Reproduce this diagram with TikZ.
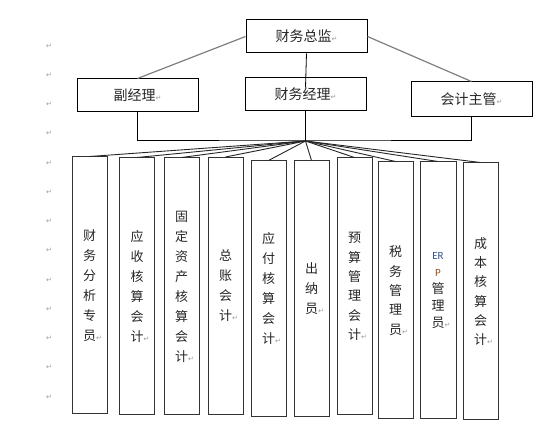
\documentclass[tikz,border=0pt]{standalone}
\usepackage{fontspec}
\newfontfamily\cjk{Noto Sans CJK SC}
\newfontfamily\dejavu{DejaVu Sans}
\newfontfamily\calibri{Carlito}
\definecolor{pmgray}{HTML}{9A9A9A}
\definecolor{linegray}{HTML}{7F7F7F}
\definecolor{erblue}{HTML}{2F4F8F}
\definecolor{erbrown}{HTML}{9A4E1C}
\newcommand{\pmk}{{\color{pmgray}\dejavu\fontsize{7}{7}\selectfont ↵}}
\begin{document}
\begin{tikzpicture}[x=1pt,y=-1pt,
  topbox/.style={draw,line width=1pt,minimum width=121pt,minimum height=33pt,inner sep=0pt,
    text=black!85,font=\cjk\fontsize{14}{16}\selectfont},
  colbox/.style={draw=black!80,line width=1pt,minimum width=35pt,minimum height=257pt,inner sep=0pt,
    align=center,text width=35pt,text=black!85,font=\cjk\fontsize{13}{20}\selectfont}]
  \useasboundingbox (0,0) rectangle (555,427);
  %segni di paragrafo
  \foreach \i in {0,...,12}
    \node (m\i) at (49,46+29.25*\i) {\pmk};
  %vertice
  \node[topbox] (zongjian) at (306.5,36.5) {财务总监\pmk};
  %secondo livello
  \node[topbox] (fujingli) at (137.5,95.5) {副经理\pmk};
  \node[topbox] (jingli) at (305.5,94.5) {财务经理\pmk};
  \node[topbox,minimum height=35pt] (zhuguan) at (471.5,99.5) {会计主管\pmk};
  \draw[linegray,line width=1.2pt] (zongjian.west) -- (fujingli.north);
  \draw[linegray,line width=1.2pt] (zongjian.east) -- (zhuguan.north);
  \draw[line width=0.8pt] (zongjian.south) -- ([yshift=-10pt]jingli.north);
  %raccordo
  \coordinate (hub) at (305.5,141);
  \draw[line width=1pt] (fujingli.south) |- (hub) -| (zhuguan.south);
  \draw[line width=1pt] (jingli.south) -- (hub);
  %terzo livello
  \node[colbox] (c1) at (89.5,285.5) {财\\务\\分\\析\\专\\员\rlap{\pmk}};
  \node[colbox] (c2) at (137,286.5) {应\\收\\核\\算\\会\\计\rlap{\pmk}};
  \node[colbox] (c3) at (181.5,286.5) {固\\定\\资\\产\\核\\算\\会\\计\rlap{\pmk}};
  \node[colbox] (c4) at (225.5,286) {总\\账\\会\\计\rlap{\pmk}};
  \node[colbox,minimum height=256pt] (c5) at (268.5,289) {应\\付\\核\\算\\会\\计\rlap{\pmk}};
  \node[colbox,minimum height=256pt] (c6) at (311.5,289) {出\\纳\\员\rlap{\pmk}};
  \node[colbox,font=\cjk\fontsize{13}{19.3}\selectfont] (c7) at (354.5,286.5) {预\\算\\管\\理\\会\\计\rlap{\pmk}};
  \node[colbox,font=\cjk\fontsize{13}{19.3}\selectfont] (c8) at (395.5,290.5) {税\\务\\管\\理\\员\rlap{\pmk}};
  \node[colbox,minimum width=36pt,font=\cjk\fontsize{13}{17}\selectfont] (c9) at (438,290.5)
    {{\calibri\fontsize{11}{13}\selectfont\color{erblue}ER}\\{\calibri\fontsize{11}{13}\selectfont\color{erbrown}P}\\管\\理\\员\rlap{\pmk}};
  \node[colbox,font=\cjk\fontsize{13}{19.3}\selectfont] (c10) at (480.5,291.5) {成\\本\\核\\算\\会\\计\rlap{\pmk}};
  %ventaglio
  \foreach \c in {c1,c2,c3,c4,c5,c6,c7,c8,c9,c10}
    \draw[black!85,line width=0.9pt] (hub) -- (\c.north);
\end{tikzpicture}
\end{document}
